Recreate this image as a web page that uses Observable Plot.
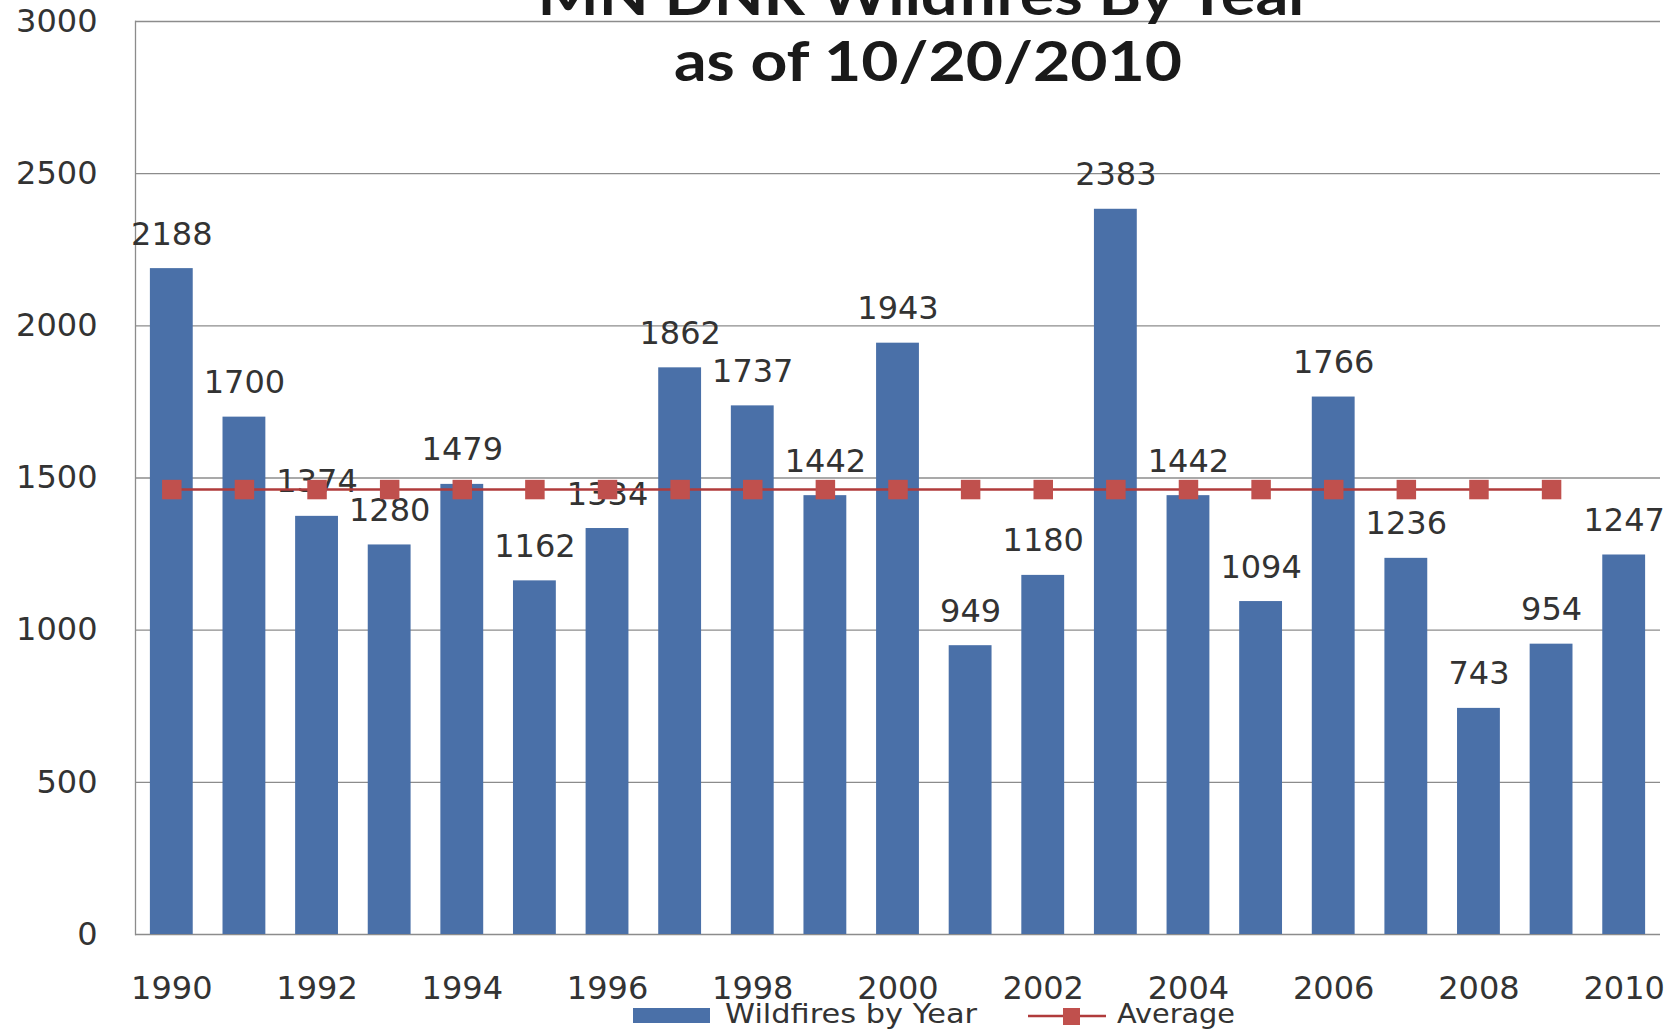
<!DOCTYPE html>
<html><head><meta charset="utf-8">
<script src="https://cdn.jsdelivr.net/npm/d3@7"></script>
<script src="https://cdn.jsdelivr.net/npm/@observablehq/plot@0.6"></script>
<style>
html,body{margin:0;padding:0;background:#fff;overflow:hidden;}
#wrap{position:relative;width:1673px;height:1031px;}
#title{position:absolute;left:0;top:0;width:1673px;height:100px;pointer-events:none;}
#legend{position:absolute;left:0;top:995px;width:1673px;height:36px;pointer-events:none;}
</style></head><body>
<div id="wrap"><div id="chart"></div>
<svg id="title" width="1673" height="100">
  <text x="925" y="15" text-anchor="middle" font-family="Lato" font-weight="bold" font-size="56" fill="#1a1a1a" textLength="775" lengthAdjust="spacingAndGlyphs">MN DNR Wildfires By Year</text>
  <text x="928" y="81" text-anchor="middle" font-family="Lato" font-weight="bold" font-size="56" fill="#1a1a1a" textLength="508" lengthAdjust="spacingAndGlyphs">as of 10/20/2010</text>
</svg>
<svg id="legend" width="1673" height="36">
  <rect x="633" y="13" width="77" height="15" fill="#4A70A8"></rect>
  <text x="725" y="28" font-family="DejaVu Sans" font-size="27" fill="#333" textLength="252" lengthAdjust="spacingAndGlyphs">Wildfires by Year</text>
  <line x1="1028" x2="1106" y1="21" y2="21" stroke="#B03B3B" stroke-width="2.5"></line>
  <rect x="1063" y="13" width="17" height="17" fill="#C0504D"></rect>
  <text x="1117" y="28" font-family="DejaVu Sans" font-size="27" fill="#333" textLength="118" lengthAdjust="spacingAndGlyphs">Average</text>
</svg>
</div>
<script>
const years = [1990,1991,1992,1993,1994,1995,1996,1997,1998,1999,2000,2001,2002,2003,2004,2005,2006,2007,2008,2009,2010];
const fires = [2188,1700,1374,1280,1479,1162,1334,1862,1737,1442,1943,949,1180,2383,1442,1094,1766,1236,743,954,1247];
const avgYears = [1990,1991,1992,1993,1994,1995,1996,1997,1998,1999,2000,2001,2002,2003,2004,2005,2006,2007,2008,2009];
const average = [1462,1462,1462,1462,1462,1462,1462,1462,1462,1462,1462,1462,1462,1462,1462,1462,1462,1462,1462,1462];
const yTicks = [0,500,1000,1500,2000,2500,3000];
const xTickLabels = [1990,1992,1994,1996,1998,2000,2002,2004,2006,2008,2010];

const barData = years.map((y,i)=>({year:y, fires:fires[i]}));
const avgData = avgYears.map((y,i)=>({year:y, avg:average[i]}));

const chart = Plot.plot({
  width: 1673,
  height: 1031,
  marginTop: 21,
  marginBottom: 97,
  marginLeft: 135,
  marginRight: 13,
  style: {fontFamily: "DejaVu Sans", color: "#333", background: "#fff"},
  x: {type: "band", domain: years, paddingInner: 0.41, paddingOuter: 0.205, round: false, label: null},
  y: {domain: [0, 3000], label: null},
  marks: [
    Plot.gridY(yTicks, {stroke: "#8c8c8c", strokeOpacity: 1, strokeWidth: 1.3}),
    Plot.frame({anchor: "left", stroke: "#8c8c8c", strokeWidth: 1.3}),
    Plot.barY(barData, {x: "year", y: "fires", fill: "#4A70A8"}),
    Plot.text(barData, {x: "year", y: "fires", text: d => String(d.fires), lineAnchor: "bottom", dy: -24, fontSize: 32, fill: "#333"}),
    Plot.line(avgData, {x: "year", y: "avg", stroke: "#B03B3B", strokeWidth: 2.5}),
    Plot.dot(avgData, {x: "year", y: "avg", symbol: "square", r: 11, fill: "#C0504D", stroke: "none"}),
    Plot.axisY({ticks: yTicks, tickSize: 0, tickPadding: 38, fontSize: 32, tickFormat: d => String(d), label: null}),
    Plot.axisX({ticks: xTickLabels, tickSize: 0, tickPadding: 42, fontSize: 32, tickFormat: d => String(d), label: null})
  ]
});
document.getElementById("chart").appendChild(chart);
</script>
</body></html>
